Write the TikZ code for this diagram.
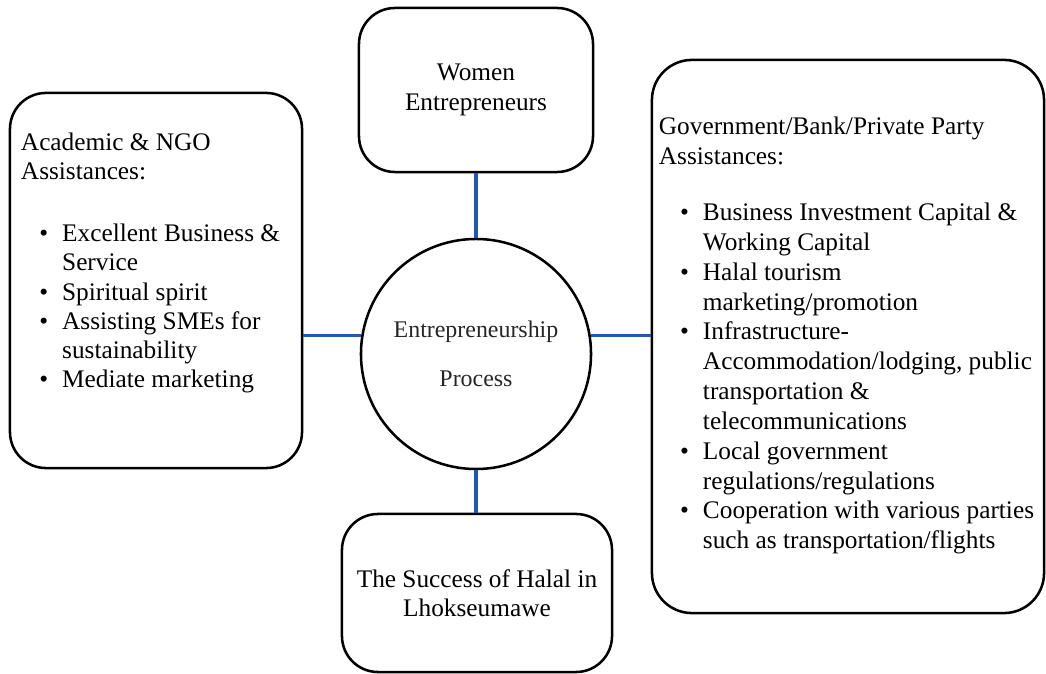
\documentclass[tikz,border=0pt]{standalone}
\usepackage{fontspec}
\setmainfont{Liberation Serif}
\usetikzlibrary{positioning,shapes}
\definecolor{linkBlue}{RGB}{30,88,180}
\newcommand{\bul}{\textbullet}

\begin{document}
\begin{tikzpicture}[x=0.025cm,y=-0.025cm,
  roundbox/.style={draw=black,line width=1.8pt,rounded corners=0.9cm,inner sep=0pt,
                   align=center,font=\fontsize{18}{21}\selectfont},
  boxtext/.style={inner sep=0pt,font=\fontsize{18}{21.2}\selectfont},
  link/.style={draw=linkBlue,line width=2.2pt}]
\useasboundingbox (0,0) rectangle (1046,674);

% the four partner boxes and the process circle
\node[roundbox,minimum width=7.3cm,minimum height=9.375cm] (acad) at (156,280.5) {};
\node[roundbox,minimum width=9.8cm,minimum height=13.825cm,rounded corners=1cm] (gov) at (848,336.5) {};
\node[roundbox,minimum width=5.85cm,minimum height=4.1cm] (women) at (476,90) {Women\\Entrepreneurs};
\node[roundbox,minimum width=6.75cm,minimum height=3.95cm] (halal) at (477,593)
  {The Success of Halal in\\Lhokseumawe};
\node[circle,draw,line width=1.8pt,minimum size=5.75cm,align=center,text=black!85,
      font=\fontsize{17}{21}\selectfont] (proc) at (476,354) {Entrepreneurship\\[14pt]Process};

% box contents
\node[boxtext,font=\fontsize{18}{20.8}\selectfont,anchor=base west] (acadlist)
  at ([shift={(12,59)}]acad.north west) {%
\begin{tabular}[t]{@{\hspace{13pt}}l@{\hspace{10pt}}l@{}}
\multicolumn{2}{@{}l@{}}{Academic \& NGO}\\
\multicolumn{2}{@{}l@{}}{Assistances:}\\[23pt]
\bul & Excellent Business \&\\
     & Service\\
\bul & Spiritual spirit\\
\bul & Assisting SMEs for\\
     & sustainability\\
\bul & Mediate marketing
\end{tabular}};

\node[boxtext,anchor=base west] (govlist) at ([shift={(8,76)}]gov.north west) {%
\begin{tabular}[t]{@{\hspace{15pt}}l@{\hspace{10pt}}l@{}}
\multicolumn{2}{@{}l@{}}{Government/Bank/Private Party}\\
\multicolumn{2}{@{}l@{}}{Assistances:}\\[18.8pt]
\bul & Business Investment Capital \&\\
     & Working Capital\\
\bul & Halal tourism\\
     & marketing/promotion\\
\bul & Infrastructure-\\
     & Accommodation/lodging, public\\
     & transportation \&\\
     & telecommunications\\
\bul & Local government\\
     & regulations/regulations\\
\bul & Cooperation with various parties\\
     & such as transportation/flights
\end{tabular}};

% connectors
\draw[link] (proc.north |- women.south) -- (proc.north);
\draw[link] (proc.south) -- (proc.south |- halal.north);
\draw[link] (proc.171) -- (proc.171 -| acad.east);
\draw[link] (proc.9) -- (proc.9 -| gov.west);
\end{tikzpicture}
\end{document}
